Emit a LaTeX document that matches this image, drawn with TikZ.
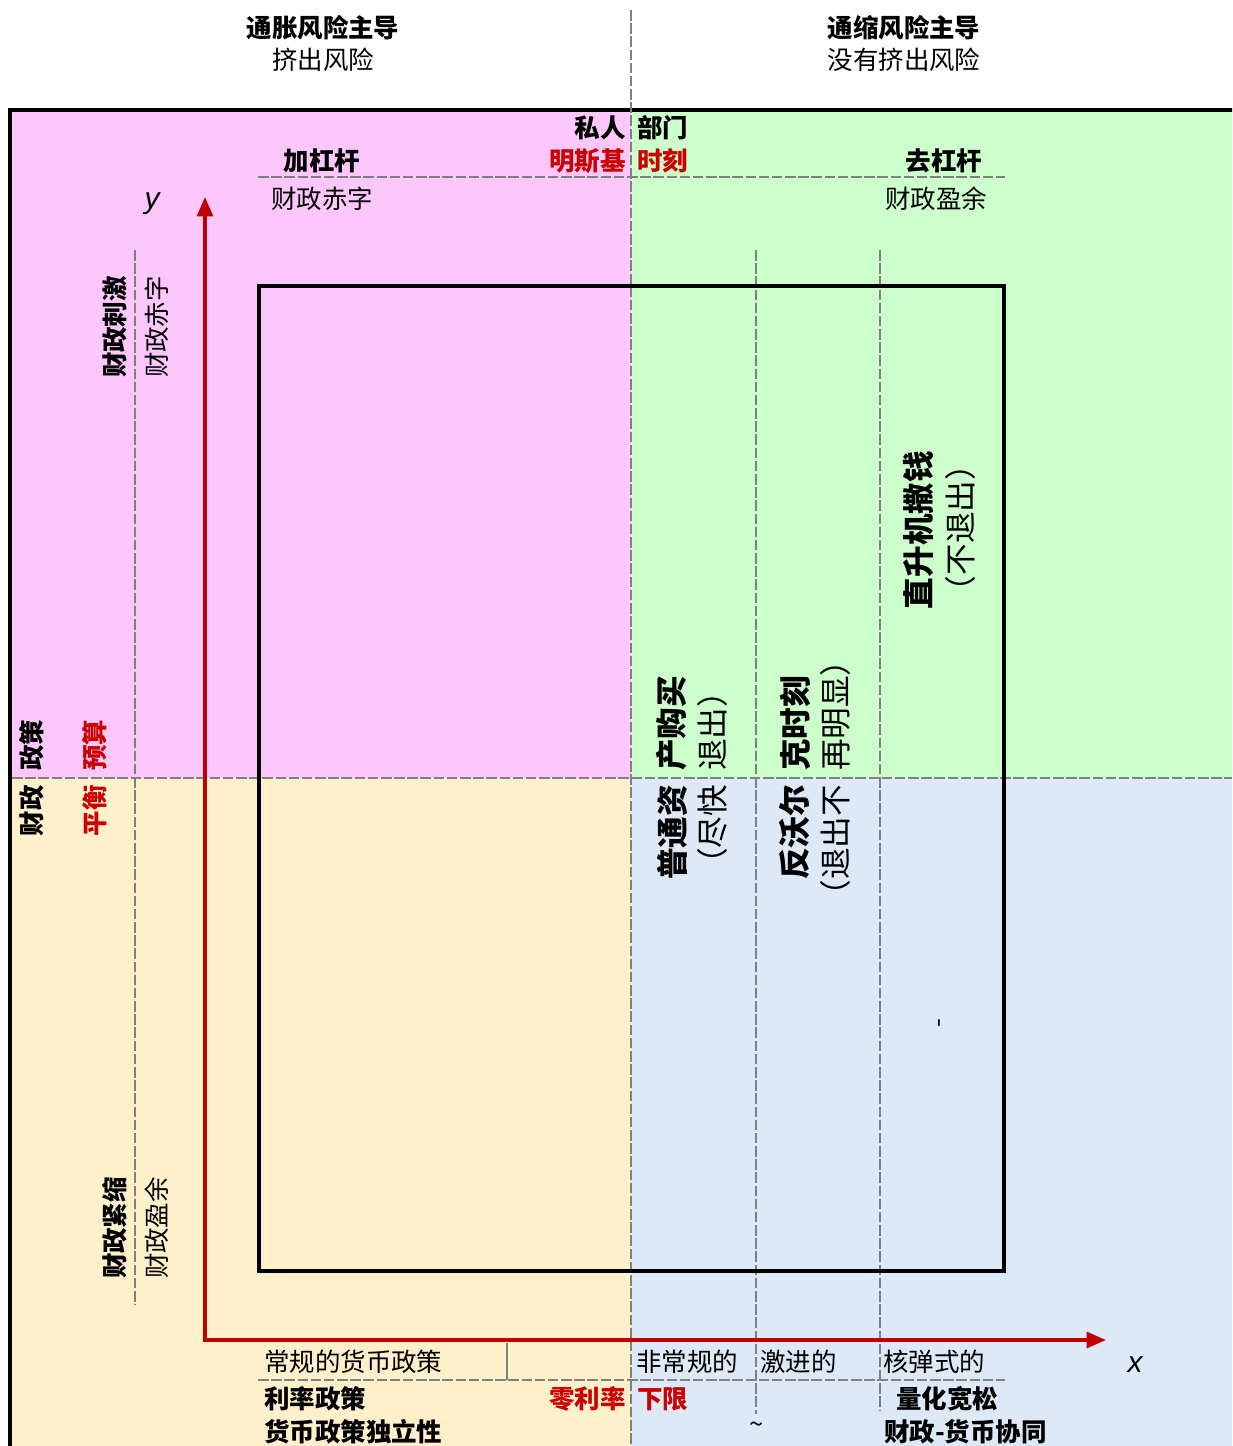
\documentclass[tikz,border=0pt]{standalone}
\usepackage{fontspec}
\setmainfont{Noto Sans CJK SC}
\newfontfamily\latinit{Liberation Sans}
\usetikzlibrary{arrows.meta}

\definecolor{pinkbg}{RGB}{252,200,252}
\definecolor{greenbg}{RGB}{204,255,204}
\definecolor{creambg}{RGB}{255,240,204}
\definecolor{bluebg}{RGB}{221,233,246}
\definecolor{axred}{RGB}{192,0,0}
\definecolor{redtxt}{RGB}{204,0,0}

\newcommand{\txtsize}{\fontsize{14.5}{17}\selectfont}
\newcommand{\bigsize}{\fontsize{18}{21}\selectfont}

\begin{document}
\begin{tikzpicture}[
  x=0.02cm, y=-0.02cm,
  >={Triangle[length=11pt,width=9pt]},
  lab/.style={inner sep=1pt,font=\txtsize},
  blab/.style={inner sep=1pt,font=\txtsize\bfseries},
  rlab/.style={blab,text=redtxt},
  vlab/.style={lab,rotate=90},
  vblab/.style={blab,rotate=90},
  vbig/.style={inner sep=1pt,rotate=90,font=\bigsize},
  vbigb/.style={inner sep=1pt,rotate=90,font=\bigsize\bfseries},
  grid/.style={draw=black!50,line width=1.5pt,dash pattern=on 6pt off 1.5pt},
  frame/.style={draw=black,line width=1.9pt},
  axis/.style={draw=axred,line width=1.9pt},
  axlab/.style={inner sep=0pt,font=\latinit\itshape\fontsize{17}{20}\selectfont}
]

% pixel units, y downwards
\def\xm{631}     % private sector split
\def\ym{778}     % fiscal policy split

\useasboundingbox (0,0) rectangle (1232,1446);
\clip (0,0) rectangle (1232,1446);

% --- label split across a line: #1 = name, #2 = y / x, #3 = first part, #4 = second part, #5 = style
\newcommand{\splitrow}[5]{
  \node[#5,anchor=east] (#1L) at (\xm-3,#2) {#3};
  \node[#5,anchor=west] (#1R) at (\xm+4,#2) {#4};
}
\newcommand{\splitcol}[5]{
  \node[#5,anchor=east] (#1lo) at (#2,\ym+5) {#3};   % below the line
  \node[#5,anchor=west] (#1hi) at (#2,\ym-5) {#4};   % above the line
}

% quadrants
\fill[pinkbg]  (10,110) rectangle (\xm,\ym);
\fill[greenbg] (\xm,110) rectangle (1240,\ym);
\fill[creambg] (10,\ym) rectangle (\xm,1460);
\fill[bluebg]  (\xm,\ym) rectangle (1240,1460);
\draw[frame] (10,1460) -- (10,110) -- (1240,110);

% dashed grid
\draw[grid] (\xm,10) -- (\xm,1446);
\draw[grid] (12,\ym) -- (1232,\ym);
\draw[grid] (258,177) -- (1005,177);
\draw[grid] (258,1380) -- (1005,1380);
\draw[grid] (135,250) -- (135,1305);
\draw[grid] (756,250) -- (756,1414);
\draw[grid] (880,250) -- (880,1410);
\draw[draw=black!50,line width=1.5pt] (507,1343) -- (507,1380);

% inner box
\draw[line width=2pt] (259,286) rectangle (1004,1271);

% axes
\coordinate (ytip) at (205,197);
\coordinate (O) at (205,1340);
\coordinate (xtip) at (1106,1340);
\draw[axis,<->] (ytip) -- (O) -- (xtip);
\node[axlab] (ylab) at (152,204) {y};
\node[axlab] (xlab) at (1135,1365) {x};

% header
\node[blab] (infl) at (323,28) {通胀风险主导};
\node[lab] (crowd) at (323,60) {挤出风险};
\node[blab] (defl) at (904,28) {通缩风险主导};
\node[lab] (nocrowd) at (904,60) {没有挤出风险};

% private sector (top)
\splitrow{sec}{128}{私人}{部门}{blab}
\splitrow{min}{161}{明斯基}{时刻}{rlab}
\node[blab] (lev) at (322,161) {加杠杆};
\node[blab] (delev) at (944,161) {去杠杆};
\node[lab] (defic) at (322,199) {财政赤字};
\node[lab] (surp) at (936,199) {财政盈余};

% fiscal side (left)
\splitcol{fp}{32}{财政}{政策}{vblab}
\splitcol{bb}{95}{平衡}{预算}{vblab,text=redtxt}
\node[vblab] (stim) at (115,327) {财政刺激};
\node[vlab] (stimd) at (157,327) {财政赤字};
\node[vblab] (aust) at (115,1228) {财政紧缩};
\node[vlab] (austs) at (157,1228) {财政盈余};

% monetary columns
\splitcol{qe}{672}{普通资}{产购买}{vbigb}
\splitcol{qex}{712}{（尽快}{退出）}{vbig}
\splitcol{vol}{795}{反沃尔}{克时刻}{vbigb}
\splitcol{volx}{835}{（退出不}{再明显）}{vbig}
\node[vbigb] (heli) at (918,530) {直升机撒钱};
\node[vbig] (helix) at (960,528) {（不退出）};
\node[vlab] (dash) at (942,1023) {-};

% monetary side (bottom)
\node[lab,anchor=west] (conv) at (262,1362) {常规的货币政策};
\node[lab,anchor=west] (unconv) at (634,1362) {非常规的};
\node[lab,anchor=west] (aggr) at (758,1362) {激进的};
\node[lab,anchor=west] (nucl) at (881,1362) {核弹式的};
\node[blab,anchor=west] (rate) at (262,1399) {利率政策};
\splitrow{zlb}{1399}{零利率}{下限}{rlab}
\node[blab,anchor=west] (qeb) at (894,1399) {量化宽松};
\node[blab,anchor=west] (indep) at (262,1432) {货币政策独立性};
\node[lab] (tilde) at (757,1428) {\textasciitilde};
\node[blab,anchor=west] (coord) at (882,1432) {财政-货币协同};

\end{tikzpicture}
\end{document}
